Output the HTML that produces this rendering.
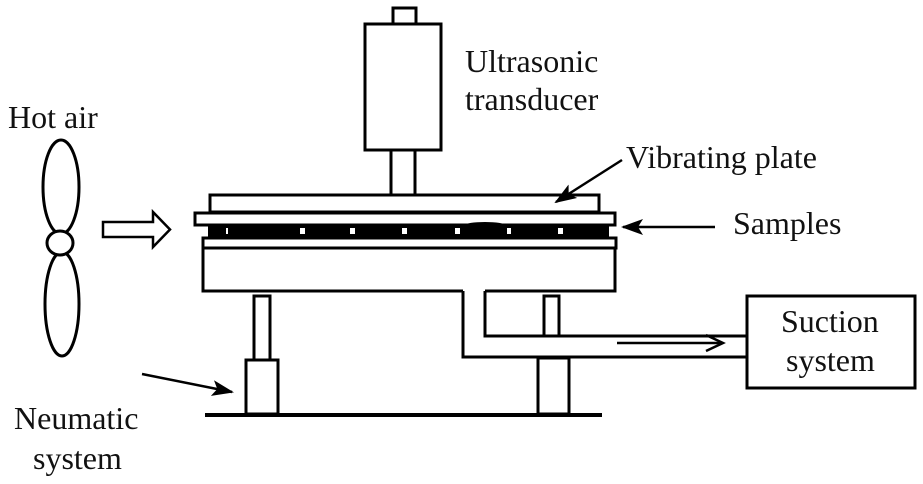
<!DOCTYPE html>
<html><head><style>
html,body{margin:0;padding:0;background:#fff;}
svg{display:block;}
text{font-family:"Liberation Serif",serif;font-size:32px;fill:#111;}
</style></head><body>
<svg width="923" height="484" viewBox="0 0 923 484" xmlns="http://www.w3.org/2000/svg">
<defs>
<marker id="ah2" markerWidth="22" markerHeight="16" refX="20" refY="8" orient="auto" markerUnits="userSpaceOnUse">
<path d="M0,0 L22,8 L0,16 L5,8 z" fill="#000"/></marker>
</defs>
<g fill="none" stroke="#000" stroke-width="3">
<ellipse cx="61" cy="187" rx="18" ry="47"/>
<ellipse cx="62" cy="304" rx="17" ry="52"/>
<ellipse cx="60" cy="243" rx="13" ry="12" fill="#fff"/>
<path d="M103,222 L153,222 L153,212 L170,229.5 L153,247 L153,237 L103,237 z" stroke-width="2.5"/>
<rect x="393" y="8" width="23" height="16"/>
<rect x="365" y="24" width="76" height="126"/>
<rect x="391" y="150" width="24" height="45"/>
<rect x="210" y="195" width="389" height="17"/>
<rect x="195" y="213" width="420" height="12"/>
<rect x="203" y="238" width="413" height="10"/>
<path d="M203,248 L203,291 L463,291 M485,291 L615,291 L615,248"/>
<path d="M463,291 L463,357 L747,357"/>
<path d="M485,291 L485,336 L747,336"/>
<rect x="254" y="296" width="16" height="64"/>
<rect x="246" y="360" width="32" height="54"/>
<rect x="544" y="296" width="15" height="40"/>
<rect x="538" y="358" width="31" height="56"/>
<line x1="205" y1="415" x2="602" y2="415" stroke-width="4"/>
<rect x="747" y="296" width="168" height="92"/>
<line x1="617" y1="343" x2="722" y2="343" stroke-width="2.5"/>
<path d="M706,335 L723,343 L706,351" stroke-width="2.5"/>
<line x1="622" y1="160" x2="556" y2="202" stroke-width="2.5" marker-end="url(#ah2)"/>
<line x1="715" y1="227" x2="623" y2="227" stroke-width="2.5" marker-end="url(#ah2)"/>
<line x1="142" y1="374" x2="232" y2="392" stroke-width="2.5" marker-end="url(#ah2)"/>
</g>
<rect x="208" y="225" width="401" height="12" fill="#000"/>
<g fill="#fff">
<rect x="226" y="228" width="2" height="6"/>
<rect x="300" y="228" width="5" height="6"/>
<rect x="350" y="228" width="5" height="6"/>
<rect x="402" y="228" width="5" height="6"/>
<rect x="455" y="228" width="5" height="6"/>
<rect x="507" y="228" width="4" height="6"/>
<rect x="558" y="228" width="5" height="6"/>
</g>
<ellipse cx="485" cy="225" rx="20" ry="3" fill="#000"/>
<text x="8" y="128">Hot air</text>
<text x="465" y="72">Ultrasonic</text>
<text x="465" y="110">transducer</text>
<text x="626" y="168">Vibrating plate</text>
<text x="733" y="234">Samples</text>
<text x="781" y="332">Suction</text>
<text x="786" y="371">system</text>
<text x="14" y="429">Neumatic</text>
<text x="33" y="469">system</text>
</svg>
</body></html>
